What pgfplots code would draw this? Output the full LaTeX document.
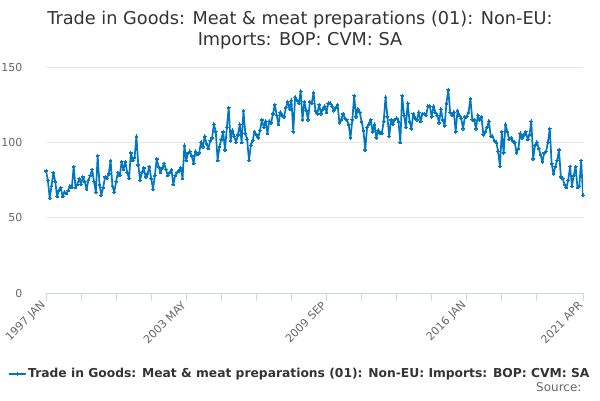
\documentclass[border=0pt]{standalone}
\usepackage{fontspec}
\setmainfont{DejaVu Sans}
\usepackage{pgfplots}
\pgfplotsset{compat=1.18}
\definecolor{serc}{RGB}{0,119,192}
\definecolor{axisc}{HTML}{CCD6EB}
\definecolor{gridc}{HTML}{E6E6E6}
\definecolor{labc}{HTML}{666666}
\definecolor{titc}{HTML}{333333}
\begin{document}
\begin{tikzpicture}[x=1pt,y=1pt]
\useasboundingbox (0,0) rectangle (600,400);
\node[anchor=base, text=titc, font=\fontsize{17.7}{22}\selectfont] at (300,375.5) {Trade in Goods: Meat \& meat preparations (01): Non-EU:};
\node[anchor=base, text=titc, font=\fontsize{17.7}{22}\selectfont] at (300,354.5) {Imports: BOP: CVM: SA};
\node[anchor=base east, text=labc, font=\fontsize{12}{14}\selectfont] at (585,8.3) {Source:};
\begin{axis}[
  at={(46pt,107pt)}, anchor=south west,
  scale only axis, width=537pt, height=226pt,
  xmin=0, xmax=291, ymin=0, ymax=150,
  axis x line*=bottom, axis y line*=left,
  x axis line style={-, draw=axisc, line width=1pt},
  y axis line style={draw=none},
  ytick={0,50,100,150},
  ymajorgrids, grid style={draw=gridc, line width=1pt},
  ytick style={draw=none},
  xtick={0,76,152,228,291},
  xticklabels={1997 JAN,2003 MAY,2009 SEP,2016 JAN,2021 APR},
  minor xtick={19,38,57,95,114,133,171,190,209,247,266},
  tick align=outside,
  major tick length=8pt, minor tick length=8pt,
  xtick style={draw=axisc, line width=1pt},
  every minor tick/.append style={draw=axisc, line width=1pt},
  xticklabel style={rotate=45, anchor=east, text=labc, font=\fontsize{11}{13}\selectfont},
  yticklabel style={text=labc, font=\fontsize{11}{13}\selectfont, xshift=-12pt},
  /pgf/number format/assume math mode=true,
  legend style={at={(axis description cs:0.473,-0.358)}, anchor=center, draw=none, fill=none,
    font=\bfseries\fontsize{12.3}{15}\selectfont, text=titc, inner sep=0pt},
  legend image code/.code={\draw[mark repeat=2,mark phase=2] plot coordinates {(0pt,0pt) (8pt,0pt) (16pt,0pt)};},
]
\addplot[serc, line width=1.7pt, line join=round, line cap=round, mark=*, mark size=1.4pt, mark options={fill=serc, draw=serc, line width=0pt}] coordinates {
(0,81) (1,75) (2,63) (3,71) (4,80) (5,74) (6,64) (7,68) (8,70) (9,64)
(10,67) (11,66) (12,68) (13,71) (14,70) (15,84) (16,70) (17,72) (18,76) (19,72)
(20,77) (21,74) (22,69) (23,75) (24,78) (25,82) (26,74) (27,67) (28,91) (29,72)
(30,65) (31,70) (32,77) (33,76) (34,79) (35,88) (36,71) (37,67) (38,74) (39,80)
(40,78) (41,87) (42,82) (43,87) (44,80) (45,76) (46,93) (47,88) (48,90) (49,104)
(50,85) (51,75) (52,80) (53,83) (54,77) (55,79) (56,84) (57,76) (58,69) (59,78)
(60,89) (61,84) (62,80) (63,83) (64,86) (65,82) (66,78) (67,80) (68,82) (69,72)
(70,78) (71,80) (72,81) (73,83) (74,76) (75,98) (76,88) (77,93) (78,94) (79,91)
(80,86) (81,94) (82,92) (83,93) (84,100) (85,97) (86,104) (87,99) (88,96) (89,101)
(90,103) (91,112) (92,107) (93,88) (94,97) (95,102) (96,107) (97,95) (98,110) (99,123)
(100,101) (101,108) (102,104) (103,100) (104,105) (105,112) (106,100) (107,121) (108,106) (109,102)
(110,88) (111,98) (112,101) (113,107) (114,105) (115,103) (116,108) (117,115) (118,110) (119,114)
(120,106) (121,114) (122,113) (123,119) (124,125) (125,118) (126,112) (127,120) (128,118) (129,117)
(130,123) (131,127) (132,122) (133,128) (134,107) (135,130) (136,128) (137,126) (138,134) (139,115)
(140,127) (141,121) (142,115) (143,127) (144,126) (145,133) (146,121) (147,119) (148,125) (149,119)
(150,122) (151,124) (152,120) (153,126) (154,126) (155,124) (156,121) (157,123) (158,125) (159,113)
(160,115) (161,119) (162,116) (163,115) (164,112) (165,103) (166,115) (167,131) (168,117) (169,122)
(170,120) (171,114) (172,108) (173,95) (174,110) (175,112) (176,115) (177,107) (178,112) (179,103)
(180,108) (181,106) (182,106) (183,114) (184,130) (185,117) (186,104) (187,115) (188,112) (189,115)
(190,116) (191,114) (192,100) (193,131) (194,118) (195,110) (196,126) (197,114) (198,109) (199,119)
(200,116) (201,115) (202,120) (203,114) (204,119) (205,119) (206,118) (207,124) (208,124) (209,117)
(210,124) (211,120) (212,118) (213,113) (214,122) (215,115) (216,111) (217,126) (218,135) (219,120)
(220,118) (221,120) (222,107) (223,121) (224,118) (225,116) (226,109) (227,117) (228,117) (229,120)
(230,129) (231,115) (232,115) (233,109) (234,118) (235,115) (236,117) (237,105) (238,107) (239,110)
(240,114) (241,104) (242,104) (243,101) (244,100) (245,94) (246,84) (247,107) (248,93) (249,112)
(250,107) (251,102) (252,103) (253,101) (254,100) (255,93) (256,96) (257,106) (258,103) (259,105)
(260,107) (261,102) (262,105) (263,114) (264,89) (265,98) (266,100) (267,96) (268,92) (269,87)
(270,93) (271,94) (272,100) (273,109) (274,86) (275,79) (276,84) (277,88) (278,95) (279,77)
(280,76) (281,72) (282,70) (283,75) (284,84) (285,71) (286,78) (287,84) (288,70) (289,71)
(290,88) (291,65)
};
\addlegendentry{Trade in Goods: Meat \& meat preparations (01): Non-EU: Imports: BOP: CVM: SA}
\end{axis}
\end{tikzpicture}
\end{document}
